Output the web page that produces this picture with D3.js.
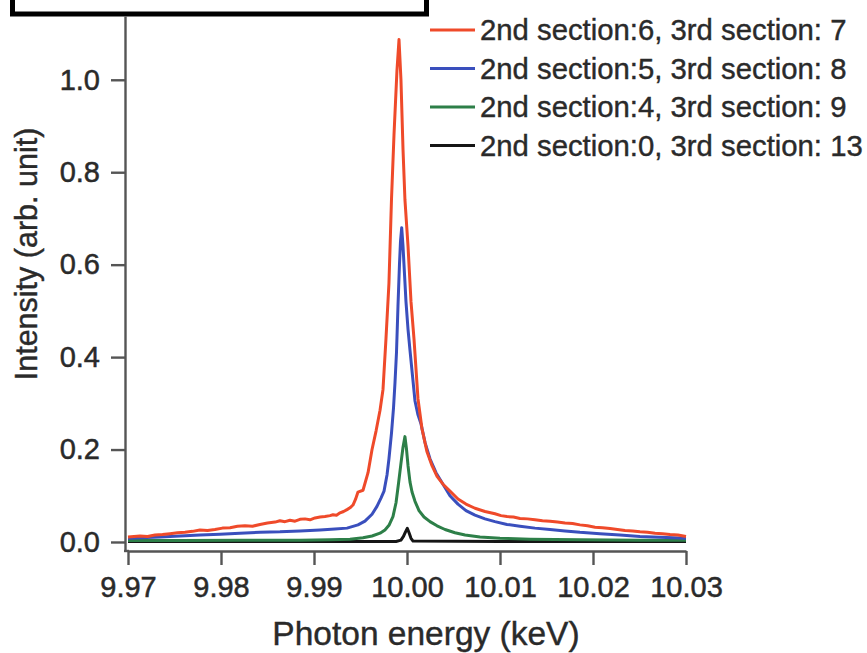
<!DOCTYPE html>
<html>
<head>
<meta charset="utf-8">
<script src="https://cdn.jsdelivr.net/npm/d3@7/dist/d3.min.js"></script>
<style>
  html, body { margin: 0; padding: 0; background: #fff; }
  svg { display: block; }
  text { font-family: "Liberation Sans", Arial, Helvetica, sans-serif; }
</style>
</head>
<body>
<svg id="chart" width="867" height="653"></svg>
<script>
// ---------------- data ----------------
const seriesNames = [
  "2nd section:6, 3rd section: 7",
  "2nd section:5, 3rd section: 8",
  "2nd section:4, 3rd section: 9",
  "2nd section:0, 3rd section: 13"
];
const seriesColors = ["#ef4a2a", "#3a4fbd", "#2d7f48", "#151515"];

const xTicks = [9.97, 9.98, 9.99, 10.00, 10.01, 10.02, 10.03];
const yTicks = [0.0, 0.2, 0.4, 0.6, 0.8, 1.0];

const redE = [9.97000, 9.97129, 9.97210, 9.97290, 9.97371, 9.97452, 9.97532, 9.97613, 9.97694, 9.97774,
  9.97855, 9.97935, 9.98016, 9.98097, 9.98177, 9.98258, 9.98339, 9.98419, 9.98500, 9.98581,
  9.98634, 9.98688, 9.98742, 9.98796, 9.98849, 9.98903, 9.98957, 9.99011, 9.99065, 9.99118,
  9.99172, 9.99204, 9.99242, 9.99280, 9.99318, 9.99355, 9.99387, 9.99419, 9.99446,
  9.99473, 9.99527, 9.99581, 9.99624, 9.99667, 9.99710, 9.99742, 9.99774, 9.99806, 9.99833,
  9.99860, 9.99892, 9.99914, 9.99935, 9.99957, 9.99978, 10.00011, 10.00043, 10.00075, 10.00118,
  10.00161, 10.00215, 10.00269, 10.00323, 10.00387, 10.00462, 10.00548, 10.00634, 10.00731, 10.00839,
  10.00946, 10.01011, 10.01075, 10.01145, 10.01215, 10.01296, 10.01376, 10.01457, 10.01538, 10.01618,
  10.01699, 10.01780, 10.01860, 10.01941, 10.02022, 10.02102, 10.02183, 10.02263, 10.02344,
  10.02425, 10.02505, 10.02586, 10.02667, 10.02747, 10.02828, 10.02914, 10.03000];
const redI = [0.011, 0.013, 0.012, 0.015, 0.016, 0.018, 0.020, 0.021, 0.023, 0.026,
  0.025, 0.027, 0.030, 0.031, 0.034, 0.035, 0.034, 0.038, 0.041, 0.043,
  0.046, 0.044, 0.047, 0.045, 0.049, 0.050, 0.048, 0.052, 0.054, 0.055,
  0.057, 0.059, 0.058, 0.063, 0.066, 0.070, 0.074, 0.080, 0.092,
  0.108, 0.112, 0.150, 0.200, 0.240, 0.285, 0.330, 0.440, 0.560, 0.740,
  0.880, 1.020, 1.087, 1.000, 0.850, 0.740, 0.640, 0.520, 0.440, 0.310,
  0.245, 0.195, 0.165, 0.142, 0.125, 0.110, 0.093, 0.082, 0.073, 0.066,
  0.061, 0.057, 0.055, 0.054, 0.051, 0.050, 0.048, 0.046, 0.045, 0.043,
  0.041, 0.040, 0.037, 0.035, 0.032, 0.031, 0.029, 0.027, 0.025,
  0.024, 0.022, 0.021, 0.019, 0.018, 0.016, 0.015, 0.012];

const blueE = [9.97000, 9.97129, 9.97344, 9.97559, 9.97774, 9.97989, 9.98204, 9.98419, 9.98634, 9.98849,
  9.99065, 9.99226, 9.99355, 9.99473, 9.99548, 9.99624, 9.99677, 9.99720, 9.99753, 9.99785,
  9.99806, 9.99833, 9.99855, 9.99871, 9.99887, 9.99903, 9.99919, 9.99930, 9.99943, 9.99957,
  9.99973, 9.99989, 10.00011, 10.00032, 10.00059, 10.00086, 10.00118, 10.00151, 10.00194, 10.00247,
  10.00312, 10.00387, 10.00462, 10.00548, 10.00634, 10.00731, 10.00839, 10.00946, 10.01075, 10.01215,
  10.01376, 10.01538, 10.01699, 10.01860, 10.02075, 10.02290, 10.02505, 10.02720, 10.03000];
const blueI = [0.008, 0.009, 0.011, 0.013, 0.015, 0.017, 0.019, 0.021, 0.022, 0.024,
  0.026, 0.028, 0.030, 0.037, 0.045, 0.060, 0.077, 0.095, 0.110, 0.145,
  0.180, 0.235, 0.290, 0.345, 0.410, 0.510, 0.600, 0.650, 0.680, 0.640,
  0.580, 0.520, 0.460, 0.415, 0.360, 0.305, 0.275, 0.255, 0.215, 0.180,
  0.150, 0.125, 0.100, 0.082, 0.068, 0.058, 0.050, 0.044, 0.038, 0.034,
  0.030, 0.027, 0.024, 0.021, 0.018, 0.015, 0.012, 0.010, 0.008];

const greenE = [9.97000, 9.97559, 9.98204, 9.98849, 9.99172, 9.99387, 9.99527, 9.99624, 9.99710, 9.99763,
  9.99806, 9.99849, 9.99882, 9.99909, 9.99935, 9.99957, 9.99978, 9.99995, 10.00011, 10.00032,
  10.00054, 10.00086, 10.00129, 10.00183, 10.00247, 10.00323, 10.00409, 10.00516, 10.00624, 10.00785,
  10.01000, 10.01323, 10.01860, 10.02505, 10.03000];
const greenI = [0.003, 0.003, 0.004, 0.004, 0.005, 0.006, 0.009, 0.013, 0.019, 0.026,
  0.036, 0.055, 0.085, 0.127, 0.170, 0.205, 0.228, 0.200, 0.165, 0.130,
  0.108, 0.088, 0.068, 0.054, 0.044, 0.035, 0.027, 0.020, 0.015, 0.011,
  0.008, 0.006, 0.005, 0.004, 0.004];

const blackE = [9.97000, 9.98849, 9.99882, 9.99935, 9.99962, 9.99984, 10.00003, 10.00022, 10.00043, 10.00065,
  10.01000, 10.03000];
const blackI = [0.001, 0.001, 0.001, 0.004, 0.012, 0.022, 0.0296, 0.020, 0.008, 0.002,
  0.001, 0.001];

const seriesE = [redE, blueE, greenE, blackE];
const seriesI = [redI, blueI, greenI, blackI];

// ---------------- chart ----------------
const svg = d3.select("#chart");
const axisColor = "#555";
const textColor = "#2a2a2a";

const x = d3.scaleLinear().domain([9.97, 10.03]).range([128, 686]);
const y = d3.scaleLinear().domain([-0.0195, 1.138]).range([551, 16]);

// covered title box
svg.append("rect")
  .attr("x", 12.5).attr("y", -20)
  .attr("width", 414).attr("height", 34)
  .attr("fill", "#fff").attr("stroke", "#000").attr("stroke-width", 5);

// y axis
const yAxis = svg.append("g")
  .attr("transform", "translate(125,0)")
  .call(d3.axisLeft(y).tickValues(yTicks).tickFormat(d3.format(".1f"))
    .tickSize(14).tickSizeOuter(0).tickPadding(11));
// x axis
const xAxis = svg.append("g")
  .attr("transform", "translate(0,551)")
  .call(d3.axisBottom(x).tickValues(xTicks).tickFormat(d3.format(".2f"))
    .tickSize(14).tickSizeOuter(0).tickPadding(11));

[yAxis, xAxis].forEach(g => {
  g.select(".domain").attr("stroke", axisColor).attr("stroke-width", 2.4);
  g.selectAll(".tick line").attr("stroke", axisColor).attr("stroke-width", 2.4);
  g.selectAll(".tick text").attr("fill", textColor)
    .attr("stroke", textColor).attr("stroke-width", 0.5)
    .style("font-size", "29px")
    .style("font-family", '"Liberation Sans", Arial, Helvetica, sans-serif');
});
// corner join
svg.append("line").attr("x1", 124).attr("x2", 129).attr("y1", 551).attr("y2", 551)
  .attr("stroke", axisColor).attr("stroke-width", 2.4);

// lines
const line = d3.line().x(d => x(d[0])).y(d => y(d[1]));
const drawOrder = [3, 2, 1, 0];
drawOrder.forEach(i => {
  const pts = seriesE[i].map((e, k) => [e, seriesI[i][k]]);
  svg.append("path")
    .datum(pts)
    .attr("d", line)
    .attr("fill", "none")
    .attr("stroke", seriesColors[i])
    .attr("stroke-width", 3)
    .attr("stroke-linejoin", "round");
});

// legend
const legendY = [30, 68.5, 107, 145.5];
seriesNames.forEach((name, i) => {
  svg.append("line")
    .attr("x1", 430).attr("x2", 475)
    .attr("y1", legendY[i]).attr("y2", legendY[i])
    .attr("stroke", seriesColors[i]).attr("stroke-width", 3);
  svg.append("text")
    .attr("x", 480).attr("y", legendY[i])
    .attr("dy", "0.35em")
    .attr("fill", textColor)
    .attr("stroke", textColor).attr("stroke-width", 0.4)
    .style("font-size", "29.3px")
    .text(name);
});

// axis titles
svg.append("text")
  .attr("x", 426).attr("y", 645)
  .attr("text-anchor", "middle")
  .attr("fill", textColor)
  .attr("stroke", textColor).attr("stroke-width", 0.4)
  .style("font-size", "33.5px")
  .text("Photon energy (keV)");

svg.append("text")
  .attr("transform", "translate(37,254) rotate(-90)")
  .attr("text-anchor", "middle")
  .attr("fill", textColor)
  .attr("stroke", textColor).attr("stroke-width", 0.4)
  .style("font-size", "30.5px")
  .text("Intensity (arb. unit)");
</script>
</body>
</html>
